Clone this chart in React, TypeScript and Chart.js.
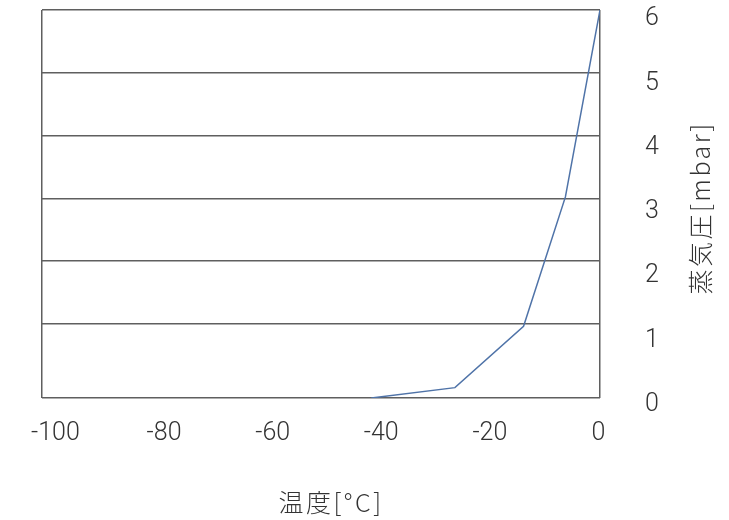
import React, { useEffect, useRef } from "react";
import { Chart, registerables } from "chart.js";

Chart.register(...registerables);

const temperatures = [-41, -26, -13.7, -6.2, 0];
const pressures = [0, 0.16, 1.11, 3.11, 6.0];
const xTickLabels = [-100, -80, -60, -40, -20, 0];
const yTickLabels = [0, 1, 2, 3, 4, 5, 6];
const xTitle = "温度[°C]";
const yTitle = "蒸気圧[mbar]";

const TEXT = "#333333";
const GRID = "#5f5f5f";
const LINE = "#4f73a8";
const tickFont = { family: "Roboto, 'Liberation Sans', sans-serif", size: 25, weight: "300" as const };

const zeroPad = (s: any) => {
  s.paddingTop = 0;
  s.paddingBottom = 0;
  s.paddingLeft = 0;
  s.paddingRight = 0;
};

const titlePlugin = {
  id: "customTitles",
  afterDraw(chart: any) {
    const ctx = chart.ctx;
    ctx.save();
    ctx.font = "300 25px 'Noto Sans CJK JP', sans-serif";
    (ctx as any).letterSpacing = "2.5px";
    ctx.fillStyle = TEXT;
    ctx.textAlign = "center";
    ctx.textBaseline = "middle";
    ctx.fillText(xTitle, 331, 502);
    ctx.translate(700, 208);
    ctx.rotate(-Math.PI / 2);
    ctx.fillText(yTitle, 0, 0);
    ctx.restore();
  },
};

export default function App() {
  const ref = useRef<HTMLCanvasElement | null>(null);
  useEffect(() => {
    if (!ref.current) return;
    const chart = new Chart(ref.current, {
      type: "line",
      data: {
        datasets: [
          {
            data: temperatures.map((t, i) => ({ x: t, y: pressures[i] })),
            xAxisID: "x",
            yAxisID: "yData",
            borderColor: LINE,
            borderWidth: 1.5,
            pointRadius: 0,
            fill: false,
            tension: 0,
          },
        ],
      },
      options: {
        animation: false,
        responsive: true,
        maintainAspectRatio: false,
        layout: { padding: { left: 42, top: 10, right: 0, bottom: 0 } },
        plugins: { legend: { display: false }, tooltip: { enabled: false } },
        scales: {
          x: {
            type: "linear",
            position: "bottom",
            min: -100,
            max: 0,
            afterBuildTicks: (s: any) => {
              s.ticks = [{ value: -100 }, { value: 0 }];
            },
            grid: { display: true, drawTicks: false, color: GRID, lineWidth: 1.5 },
            border: { display: false },
            ticks: { display: false },
            afterFit: (s: any) => {
              s.height = 0;
              zeroPad(s);
            },
          },
          xLabel: {
            type: "linear",
            position: "bottom",
            min: -102.48,
            max: 0.28,
            afterBuildTicks: (s: any) => {
              s.ticks = xTickLabels.map((v) => ({ value: v }));
            },
            grid: { display: false, drawTicks: false },
            border: { display: false },
            ticks: { font: tickFont, color: TEXT, padding: 21, maxRotation: 0, autoSkip: false },
            afterFit: (s: any) => {
              s.height = 122;
              zeroPad(s);
            },
          },
          yGrid: {
            type: "linear",
            position: "right",
            min: -0.178,
            max: 6,
            afterBuildTicks: (s: any) => {
              s.ticks = [-0.178, 1, 2, 3, 4, 5, 6].map((v) => ({ value: v }));
            },
            grid: { display: true, drawTicks: false, color: GRID, lineWidth: 1.5 },
            border: { display: false },
            ticks: { display: false },
            afterFit: (s: any) => {
              s.width = 0;
              zeroPad(s);
            },
          },
          yLabel: {
            type: "linear",
            position: "right",
            min: 0.104,
            max: 6.14,
            afterBuildTicks: (s: any) => {
              s.ticks = yTickLabels.map((v) => ({ value: v }));
            },
            grid: { display: false, drawTicks: false },
            border: { display: false },
            ticks: { font: tickFont, color: TEXT, padding: 45, autoSkip: false },
            afterFit: (s: any) => {
              s.width = 129;
              zeroPad(s);
            },
          },
          yData: { type: "linear", display: false, min: 0, max: 6 },
        },
      },
      plugins: [titlePlugin],
    });
    return () => chart.destroy();
  }, []);
  return (
    <div style={{ position: "fixed", left: 0, top: 0, width: 729, height: 520, background: "#fff" }}>
      <canvas ref={ref} />
    </div>
  );
}
